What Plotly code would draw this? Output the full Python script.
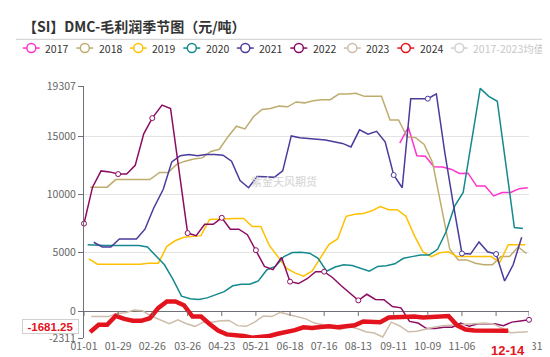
import plotly.graph_objects as go
from datetime import date, timedelta

# ---------------- data ----------------
BASE_YEAR = 2020  # common (leap) year onto which every season's dates are mapped
tick_labels = ['01-01', '01-29', '02-26', '03-26', '04-23', '05-21', '06-18',
               '07-16', '08-13', '09-11', '10-09', '11-06', '12-04', '12-31']

series_names = ['2017', '2018', '2019', '2020', '2021', '2022', '2023', '2024']
avg_name = '2017-2023均值'

# first weekly observation of each season (weekly, Saturday data)
start_2017 = '2017-09-16'
start_2018 = '2018-01-06'
start_2019 = '2019-01-05'
start_2020 = '2020-01-04'
start_2021 = '2021-01-09'
start_2022 = '2022-01-01'
start_2023 = '2023-01-07'
start_2024 = '2024-01-06'

v2017 = [14400, 15770, 13330, 13275, 12380, 12360, 12170, 11800, 11830, 10720,
         10720, 9880, 10170, 10170, 10500, 10580]
v2018 = [10630, 10630, 10630, 11280, 11280, 11280, 11280, 11280, 11890, 11890,
         12580, 12860, 13050, 13140, 13690, 13880, 14940, 15860, 15630, 16670,
         17300, 17380, 17580, 17520, 17940, 17860, 18050, 18130, 18130, 18610,
         18610, 18690, 18420, 18420, 18420, 16390, 16390, 14940, 14880, 14300,
         12700, 9000, 5300, 4390, 4390, 4100, 3970, 3970, 4670, 4670, 5500, 4940]
v2019 = [4470, 4025, 4025, 4025, 4025, 4025, 4025, 4110, 4110, 5550,
         6050, 6330, 6415, 6470, 7860, 7900, 7940, 7940, 7940, 7250,
         7250, 5630, 4670, 3690, 3275, 3000, 3415, 4525, 5720, 6190,
         8130, 8300, 8360, 8600, 8970, 8690, 8690, 8130, 6470, 5080,
         4670, 5000, 5080, 4670, 4670, 4670, 4670, 4670, 4170, 5690, 5690, 5690]
v2020 = [5690, 5630, 5630, 5630, 5630, 5630, 5630, 5500, 4700, 3970,
         2720, 1275, 1050, 1000, 1130, 1415, 1665, 2170, 2300, 2300,
         2580, 3550, 3830, 4670, 5025, 5050, 4970, 4525, 3415, 3775,
         3970, 3915, 3690, 3415, 3830, 3885, 4050, 4525, 4670, 4800,
         4800, 5300, 6800, 9000, 10170, 14600, 19100, 18420, 18000, 12600,
         7170, 7080]
v2021 = [5900, 5500, 5500, 6190, 6190, 6190, 7025, 8800, 10450, 12800,
         13330, 13420, 13330, 13420, 13420, 13370, 12860, 11190, 10580, 11550,
         11530, 11470, 12025, 15025, 14860, 14800, 14720, 14670, 14525, 14380,
         14080, 15550, 15170, 15420, 14525, 11670, 10580, 18220, 18220, 18220,
         18630, 13550, 9110, 4940, 4890, 5920, 5080, 4890, 2580, 3970, 6330]
v2022 = [7500, 10630, 12025, 11940, 11750, 11750, 12500, 15200, 16550, 17670,
         17380, 12000, 6690, 6470, 7440, 7440, 8000, 7025, 7025, 6550,
         5220, 3830, 3550, 4610, 2525, 2360, 2775, 3380, 3380, 2860,
         2170, 1550, 917, 1440, 1000, 970, 390, 275, -890, -1030,
         -1500, -1500, -1390, -1390, -1030, -1310, -1085, -1085, -1085, -1250,
         -950, -850, -750]
v2023 = [-475, -475, -475, -200, -140, 80, 25, -420, -800, -1090,
         -750, -1090, -1310, -950, -950, -835, -800, -1250, -1310, -950,
         -420, -475, -115, -280, -475, -670, -1030, -1170, -1225, -1590,
         -1335, -1500, -1780, -1890, -2225, -950, -1280, -1780, -1725, -1530,
         -1390, -1250, -1200, -1140, -1110, -1030, -1030, -1100, -1500, -1865,
         -1820, -1780]
v2024 = [-1810, -1170, -1170, -420, -670, -835, -835, -615, 275, 830,
         830, 500, -475, -475, -1110, -1670, -2000, -2060, -2140, -2280,
         -2225, -2140, -1950, -1810, -1640, -1390, -1450, -1365, -1310, -1390,
         -1300, -1225, -890, -950, -950, -560, -530, -530, -475, -560,
         -530, -475, -420, -1225, -1585, -1670, -1670, -1585, -1640, -1681.25]

y_min, y_max = -2311, 19307
y_ticks = [-2311, 0, 5000, 10000, 15000, 19307]

# ---------------- styles ----------------
colors = {'2017': '#FF33CC', '2018': '#BEAC6E', '2019': '#FFC000', '2020': '#14898E',
          '2021': '#4A3B9C', '2022': '#8C0C64', '2023': '#CDBDA9', '2024': '#E3141E'}
avg_color = '#D0D0D0'
widths = {'2024': 4.5}
AXIS = '#6E7079'
FONT = 'Noto Sans CJK SC, Noto Sans, sans-serif'

W, H = 550, 357
ML, MR, MT, MB = 76, 29, 78, 20
PW, PH = W - ML - MR, H - MT - MB


def px2x(px):
    return (px - ML) / PW


def py2y(py):
    return (H - MB - py) / PH


def season_dates(start, n):
    d0 = date.fromisoformat(start)
    out = []
    for k in range(n):
        d = d0 + timedelta(days=7 * k)
        out.append(f"{BASE_YEAR}-{d.month:02d}-{d.day:02d}")
    return out


data = {
    '2017': (start_2017, v2017), '2018': (start_2018, v2018), '2019': (start_2019, v2019),
    '2020': (start_2020, v2020), '2021': (start_2021, v2021), '2022': (start_2022, v2022),
    '2023': (start_2023, v2023), '2024': (start_2024, v2024),
}

tick_dates = [f"{BASE_YEAR}-{t}" for t in tick_labels]

fig = go.Figure()
last_x = None
for name in series_names:
    start, vals = data[name]
    xs = season_dates(start, len(vals))
    if name == '2024':
        last_x = xs[-1]
        msize = [0] * len(xs)
    else:
        msize = [5 if x[5:] in tick_labels else 0 for x in xs]
    fig.add_trace(go.Scatter(
        x=xs, y=vals, name=name, mode='lines+markers',
        line=dict(color=colors[name], width=widths.get(name, 1.5)),
        marker=dict(size=msize, color='white', opacity=[1 if s else 0 for s in msize],
                    line=dict(color=colors[name], width=1)),
        showlegend=False, cliponaxis=False,
    ))

fig.update_xaxes(
    type='date', range=[tick_dates[0], tick_dates[-1]],
    tickmode='array', tickvals=tick_dates, ticktext=tick_labels,
    ticks='', showgrid=False, showline=False, zeroline=False,
    tickfont=dict(family=FONT, size=10.5, color='#666'),
)
fig.update_yaxes(
    range=[y_min, y_max], tickmode='array', tickvals=y_ticks,
    ticktext=[str(v) for v in y_ticks],
    showgrid=True, gridcolor='#E3E3E3', gridwidth=1,
    zeroline=True, zerolinecolor=AXIS, zerolinewidth=1,
    showline=True, linecolor=AXIS, linewidth=1,
    ticks='outside', ticklen=5, tickcolor=AXIS,
    tickfont=dict(family=FONT, size=10.5, color='#666'),
)

shapes = []
# x-axis ticks hanging from the zero line
for td in tick_dates:
    shapes.append(dict(type='line', xref='x', yref='y', x0=td, x1=td,
                       ysizemode='pixel', yanchor=0, y0=0, y1=-5,
                       line=dict(color=AXIS, width=1)))
# title rule
shapes.append(dict(type='line', xref='paper', yref='paper', x0=px2x(8), x1=px2x(541),
                   y0=py2y(30), y1=py2y(30), line=dict(color='#CCCCCC', width=1)))

annotations = []
# legend (drawn by hand to keep the compact single row)
legend_items = [(n, colors[n], '#333333') for n in series_names] + [(avg_name, avg_color, '#C8C8C8')]
for i, (name, col, tcol) in enumerate(legend_items):
    cx = 23.3 + 53.5 * i
    cy = 39
    shapes.append(dict(type='line', xref='paper', yref='paper', x0=px2x(cx - 8.5), x1=px2x(cx + 8.5),
                       y0=py2y(cy), y1=py2y(cy), line=dict(color=col, width=1.5)))
    shapes.append(dict(type='circle', xref='paper', yref='paper', xsizemode='pixel', ysizemode='pixel',
                       xanchor=px2x(cx), yanchor=py2y(cy), x0=-4.5, x1=4.5, y0=-4.5, y1=4.5,
                       fillcolor='white', line=dict(color=col, width=1.5)))
    annotations.append(dict(text=name, xref='paper', yref='paper', x=px2x(cx + 12), y=py2y(cy),
                            xanchor='left', yanchor='middle', showarrow=False,
                            font=dict(family=FONT, size=10.5, color=tcol)))

# title
annotations.append(dict(text='<b>【SI】DMC-毛利润季节图（元/吨）</b>', xref='paper', yref='paper',
                        x=px2x(13), y=py2y(16), xanchor='left', yanchor='middle', showarrow=False,
                        font=dict(family='Noto Sans CJK SC', size=14, color='#333333')))
# watermark
annotations.append(dict(text='紫金天风期货', xref='paper', yref='paper', x=px2x(276), y=py2y(176),
                        xanchor='center', yanchor='middle', showarrow=False,
                        font=dict(family='Noto Sans CJK SC', size=11, color='#D2D2D2')))
# axis-pointer labels for the latest 2024 value
annotations.append(dict(text=f'<b>{v2024[-1]:.2f}</b>', xref='paper', yref='y', x=px2x(71), y=v2024[-1],
                        xanchor='right', yanchor='middle', yshift=4, showarrow=False,
                        bgcolor='white', bordercolor='#D0D0D0', borderwidth=1, borderpad=1,
                        width=53, height=11,
                        font=dict(family='Liberation Sans', size=11.5, color=colors['2024'])))
annotations.append(dict(text=f'<b>{last_x[5:]}</b>', xref='x', yref='paper', x=last_x, y=py2y(349),
                        xanchor='center', yanchor='middle', showarrow=False,
                        bgcolor='white', width=46, height=16,
                        font=dict(family='Liberation Sans', size=13, color=colors['2024'])))

fig.update_layout(
    width=W, height=H, margin=dict(l=ML, r=MR, t=MT, b=MB),
    paper_bgcolor='white', plot_bgcolor='white',
    shapes=shapes, annotations=annotations, showlegend=False,
    font=dict(family=FONT),
)

fig.write_html('out.html')
